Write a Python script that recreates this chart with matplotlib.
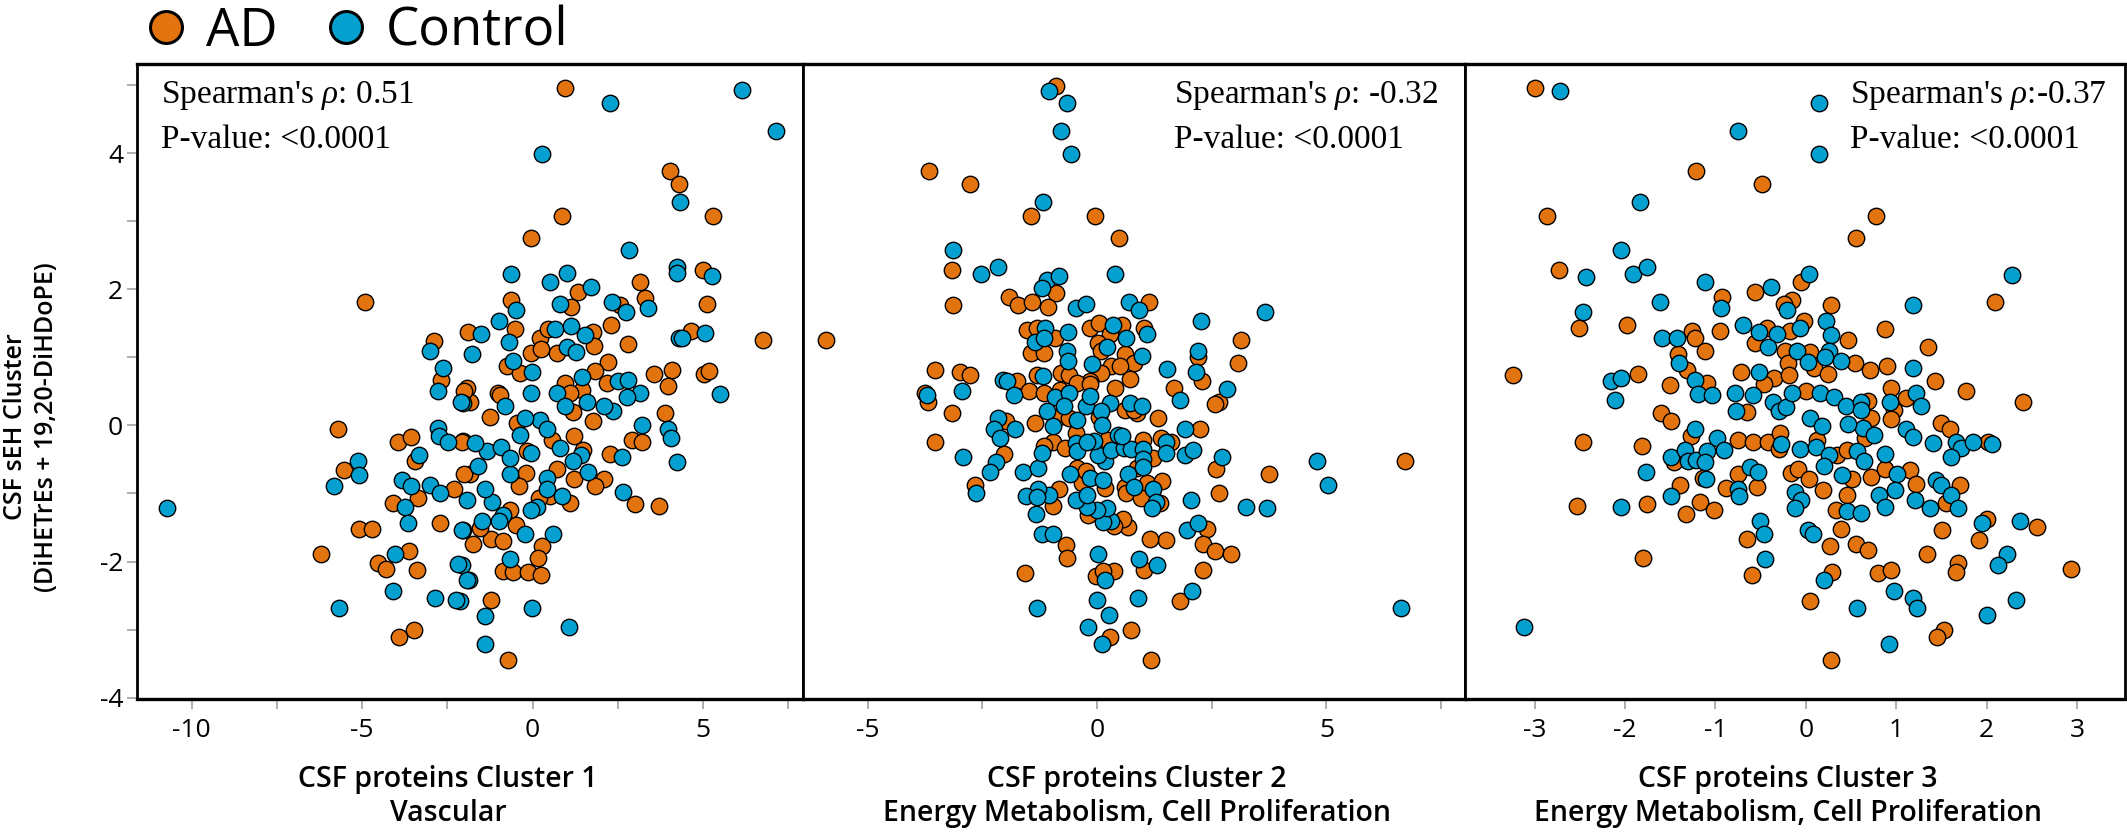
import numpy as np
import matplotlib
matplotlib.use("Agg")
import matplotlib.pyplot as plt
from matplotlib.lines import Line2D
from matplotlib.ticker import MultipleLocator

plt.rcParams["axes.unicode_minus"] = False
plt.rcParams["mathtext.fontset"] = "custom"
plt.rcParams["mathtext.rm"] = "Liberation Serif"
plt.rcParams["mathtext.it"] = "Liberation Serif:italic"

# (x, y) per subject; y = CSF sEH cluster score
c1_ad = [(0.95, 4.96), (4.04, 3.74), (4.30, 3.55), (0.87, 3.07), (5.28, 3.07), (-0.04, 2.76), (5.01, 2.28),
         (3.16, 2.10), (1.32, 1.96), (3.29, 1.87), (5.12, 1.78), (-0.62, 1.84), (1.13, 1.74), (2.55, 1.77),
         (-0.51, 1.42), (-1.90, 1.37), (0.22, 1.29), (0.46, 1.42), (1.76, 1.37), (2.29, 1.47), (2.80, 1.20),
         (4.64, 1.39), (6.76, 1.26), (-0.05, 1.06), (0.24, 1.12), (0.71, 1.07), (1.79, 1.16), (2.22, 0.93),
         (-0.76, 0.88), (-0.37, 0.77), (1.83, 0.80), (3.57, 0.75), (4.10, 0.81), (3.98, 0.58), (5.04, 0.76),
         (5.18, 0.80), (2.19, 0.62), (0.96, 0.63), (-1.93, 0.55), (-1.00, 0.48), (1.44, 0.52), (3.88, 0.18),
         (2.91, -0.22), (3.21, -0.25), (2.27, -0.42), (3.00, -1.16), (3.72, -1.18), (1.21, -0.15), (1.78, 0.06),
         (1.20, 0.19), (1.48, -0.36), (0.73, -0.64), (2.09, -0.79), (1.83, -0.89), (1.21, -0.79), (1.11, -1.14),
         (0.52, -1.03), (0.19, -1.07), (-0.20, -0.70), (-0.39, -0.89), (-0.66, -1.24), (-0.49, -1.46),
         (0.28, -1.77), (0.15, -1.95), (-0.87, -2.14), (-0.56, -2.16), (-0.12, -2.16), (0.26, -2.20),
         (-1.22, -2.57), (-0.73, -3.44), (-1.74, -1.74), (-1.23, -1.67), (-0.87, -1.70), (-1.54, -1.51),
         (-1.83, -0.72), (-2.03, -0.23), (-0.17, -0.38), (0.56, -0.21), (-0.46, 0.04), (-1.25, 0.12),
         (-1.83, 0.35), (-0.95, 0.45), (1.10, 0.48), (-4.90, 1.82), (-2.89, 1.24), (-2.70, 0.66), (-2.00, 0.50),
         (-5.72, -0.05), (-5.52, -0.65), (-5.09, -1.52), (-4.71, -1.52), (-6.21, -1.89), (-3.94, -0.25),
         (-3.57, -0.17), (-3.44, -0.53), (-3.36, -1.07), (-4.08, -1.14), (-2.71, -1.43), (-2.30, -0.94),
         (-2.08, -0.24), (-2.00, -0.72), (-3.62, -1.84), (-4.52, -2.02), (-4.30, -2.11), (-3.40, -2.12),
         (-3.48, -3.00), (-3.92, -3.11)]
c1_ctrl = [(2.26, 4.74), (6.14, 4.93), (7.14, 4.32), (0.29, 3.99), (4.33, 3.28), (2.82, 2.58), (4.23, 2.33),
           (4.23, 2.24), (5.25, 2.19), (-0.63, 2.22), (1.00, 2.24), (0.50, 2.11), (1.70, 2.03), (3.38, 1.72),
           (-0.49, 1.69), (0.81, 1.78), (2.33, 1.81), (2.74, 1.67), (-0.97, 1.53), (-1.52, 1.35), (-0.68, 1.23),
           (0.66, 1.42), (1.13, 1.46), (1.53, 1.33), (4.30, 1.29), (4.39, 1.28), (5.05, 1.36), (-1.77, 1.05),
           (1.00, 1.15), (1.28, 1.08), (-0.56, 0.94), (-0.02, 0.79), (1.46, 0.71), (5.51, 0.46), (2.51, 0.65),
           (2.81, 0.67), (-0.04, 0.48), (0.71, 0.48), (3.15, 0.48), (3.20, 0.00), (3.97, -0.05), (4.05, -0.19),
           (4.24, -0.54), (2.63, -0.46), (2.65, -0.98), (2.36, 0.21), (2.08, 0.28), (2.77, 0.42), (1.60, 0.35),
           (0.95, 0.28), (1.41, -0.43), (1.18, -0.53), (1.62, -0.69), (0.87, -1.04), (0.43, -0.77),
           (0.42, -0.94), (0.14, -1.20), (-0.05, -1.24), (-0.65, -0.72), (-0.86, -1.31), (-0.98, -1.40),
           (-0.22, -1.59), (0.61, -1.59), (-0.65, -1.96), (-1.40, -2.80), (-0.01, -2.68), (1.08, -2.96),
           (-1.40, -3.21), (-1.85, -2.27), (-2.08, -2.05), (-2.13, -2.58), (-1.49, -1.41), (-2.03, -1.53),
           (-1.20, -1.13), (-1.39, -0.94), (-1.93, -1.09), (-1.59, -0.60), (-1.34, -0.37), (-1.69, -0.26),
           (-0.93, -0.32), (-0.66, -0.48), (-0.37, -0.14), (-0.04, -0.41), (0.22, 0.08), (0.42, -0.06),
           (0.81, -0.33), (-0.22, 0.11), (-0.81, 0.28), (-2.03, 0.33), (-3.01, 1.09), (-2.64, 0.84),
           (-2.76, 0.50), (-10.73, -1.22), (-5.13, -0.52), (-5.09, -0.73), (-5.82, -0.89), (-5.67, -2.68),
           (-3.33, -0.43), (-3.84, -0.80), (-3.56, -0.89), (-3.74, -1.20), (-3.65, -1.44), (-3.01, -0.88),
           (-2.71, -1.00), (-2.76, -0.04), (-2.73, -0.16), (-2.47, -0.25), (-2.09, 0.34), (-2.08, -1.54),
           (-4.02, -1.89), (-2.18, -2.04), (-1.93, -2.27), (-4.08, -2.43), (-2.85, -2.54), (-2.24, -2.57)]

c2_ad = [(-0.89, 4.98), (-3.66, 3.74), (-2.77, 3.55), (-1.45, 3.07), (-0.04, 3.07), (0.47, 2.76), (-3.17, 2.28),
         (-0.89, 1.94), (-3.14, 1.77), (-1.93, 1.88), (-1.73, 1.77), (-1.41, 1.82), (-1.08, 1.74), (1.14, 1.82),
         (-5.91, 1.26), (3.14, 1.25), (3.07, 0.92), (2.19, 1.01), (2.29, 0.65), (1.67, 0.55), (-3.54, 0.82),
         (-2.98, 0.79), (-2.76, 0.74), (-1.75, 0.65), (-3.74, 0.48), (-1.53, 1.40), (-1.30, 1.43), (-0.91, 1.28),
         (-1.44, 1.06), (-1.16, 1.06), (-0.78, 0.77), (-0.61, 0.74), (-1.30, 0.74), (-0.15, 1.43), (0.05, 1.50),
         (0.54, 1.47), (0.29, 1.35), (1.03, 1.43), (0.02, 1.21), (0.08, 1.10), (0.60, 1.05), (0.81, 0.91),
         (0.31, 0.87), (0.49, 0.87), (0.08, 0.77), (-0.15, 0.65), (0.72, 0.68), (-0.43, 0.63), (0.40, 0.55),
         (-3.68, 0.34), (-3.17, 0.18), (-3.54, -0.25), (-2.66, -0.88), (-1.99, 0.06), (-2.03, -0.42),
         (-1.36, 0.03), (-1.48, 0.51), (-1.16, 0.48), (-0.96, -0.25), (-0.70, -0.33), (-0.47, -0.11),
         (-0.15, 0.61), (0.86, 0.18), (1.32, 0.11), (2.66, 0.35), (2.57, 0.31), (2.24, -0.05), (1.39, -0.18),
         (1.62, -0.25), (2.59, -0.64), (3.74, -0.71), (6.72, -0.53), (2.66, -0.99), (2.40, -1.52),
         (2.31, -1.74), (2.56, -1.84), (2.93, -1.89), (2.31, -2.12), (1.80, -2.58), (1.51, -1.69),
         (1.15, -1.67), (1.03, -2.12), (0.75, -3.00), (1.17, -3.44), (0.68, -1.50), (0.57, -1.37),
         (0.36, -1.48), (-0.20, -1.31), (-0.33, -0.85), (-0.43, -0.63), (-0.25, -0.67), (0.17, -0.92),
         (0.86, -0.63), (0.60, -0.90), (0.64, -0.99), (1.09, -0.85), (1.41, -0.81), (0.95, -1.07),
         (1.37, -1.14), (1.23, -0.48), (1.00, -0.22), (0.22, -0.21), (0.60, 0.23), (0.81, 0.23),
         (-1.16, -0.31), (-0.84, -0.94), (-0.97, -1.18), (-0.68, -1.76), (-0.66, -1.95), (-1.58, -2.17),
         (-0.03, -2.21), (0.36, -2.14), (0.14, -2.14), (0.29, -3.11), (-0.80, 0.52), (-0.82, 0.13),
         (-0.61, 0.11), (0.05, 0.12)]
c2_ctrl = [(-1.04, 4.92), (-0.66, 4.74), (-0.78, 4.32), (-0.56, 3.99), (-1.17, 3.28), (-3.15, 2.58),
           (-2.52, 2.23), (-2.16, 2.33), (0.38, 2.23), (-1.09, 2.13), (-0.84, 2.20), (-1.21, 2.02), (-0.47, 1.72),
           (-0.24, 1.78), (0.70, 1.81), (0.91, 1.70), (3.67, 1.67), (2.27, 1.53), (2.19, 1.10), (2.15, 0.79),
           (1.52, 0.83), (2.84, 0.53), (-2.06, 0.66), (-1.96, 0.65), (-2.94, 0.50), (-1.14, 1.43), (-1.35, 1.23),
           (-1.16, 1.28), (-0.64, 1.37), (-0.66, 1.09), (-0.64, 0.94), (-1.18, 0.72), (0.34, 1.47), (0.63, 1.28),
           (1.09, 1.35), (0.22, 1.15), (0.99, 1.02), (-0.10, 0.90), (-3.70, 0.44), (-2.93, -0.46), (-2.63, -0.99),
           (-2.17, 0.11), (-2.25, -0.06), (-2.11, -0.19), (-1.78, -0.05), (-2.20, -0.54), (-2.34, -0.69),
           (-1.61, -0.69), (-1.29, -0.62), (-1.21, -0.40), (-1.81, 0.45), (-0.91, 0.42), (-0.61, 0.47),
           (-0.73, 0.28), (-1.10, 0.21), (-0.96, -0.01), (-0.43, 0.08), (-0.47, -0.26), (-0.43, -0.38),
           (-0.24, 0.28), (-0.15, 0.43), (0.29, 0.33), (0.08, 0.21), (0.11, 0.01), (0.72, 0.33), (0.98, 0.28),
           (1.81, 0.38), (1.91, -0.05), (1.51, -0.25), (1.51, -0.40), (1.92, -0.43), (2.10, -0.36),
           (2.73, -0.47), (4.80, -0.53), (5.04, -0.88), (2.04, -1.09), (3.24, -1.20), (3.70, -1.21),
           (1.97, -1.54), (2.19, -1.44), (2.07, -2.43), (6.63, -2.68), (1.30, -2.05), (0.91, -1.97),
           (0.89, -2.53), (0.31, -1.40), (0.13, -1.42), (0.22, -1.21), (-0.01, -1.25), (-0.21, -1.20),
           (-0.47, -1.09), (-0.21, -1.02), (-0.59, -0.72), (-0.15, -0.78), (0.13, -0.80), (0.68, -0.72),
           (0.80, -0.91), (1.23, -0.94), (1.28, -1.13), (1.19, -1.21), (0.17, -0.53), (0.03, -0.43),
           (0.31, -0.36), (0.59, -0.33), (0.75, -0.34), (1.01, -0.35), (1.00, -0.50), (1.00, -0.61),
           (-0.06, -0.23), (-0.21, -0.24), (0.45, -0.14), (0.55, -0.16), (-1.04, -1.02), (-1.29, -0.94),
           (-1.55, -1.04), (-1.30, -1.05), (-1.34, -1.30), (-1.20, -1.60), (-0.97, -1.60), (-1.32, -2.68),
           (0.02, -1.89), (0.17, -2.27), (-0.01, -2.57), (0.26, -2.79), (-0.20, -2.96), (0.10, -3.21)]

c3_ad = [(-3.00, 4.96), (-1.22, 3.74), (-0.48, 3.55), (-2.86, 3.07), (0.78, 3.07), (0.55, 2.76), (-2.73, 2.28),
         (-0.05, 2.10), (2.09, 1.82), (-2.51, 1.43), (-1.98, 1.47), (-0.93, 1.88), (-0.56, 1.96), (-0.15, 1.84),
         (-0.24, 1.78), (0.28, 1.77), (-0.95, 1.38), (-0.43, 1.43), (-0.18, 1.38), (-0.02, 1.53), (0.47, 1.25),
         (0.87, 1.42), (1.35, 1.15), (-1.26, 1.38), (-1.23, 1.28), (-1.11, 1.10), (-1.41, 1.05), (-1.31, 0.82),
         (-3.24, 0.74), (-1.86, 0.76), (-1.50, 0.60), (-0.72, 0.78), (-0.35, 0.70), (-0.56, 1.21), (-0.23, 1.09),
         (0.05, 1.08), (0.09, 0.84), (0.24, 0.76), (0.54, 0.92), (0.71, 0.82), (0.90, 0.87), (1.43, 0.65),
         (1.77, 0.50), (0.94, 0.55), (-0.20, 0.92), (-0.19, 0.74), (-1.09, 0.63), (-1.60, 0.18), (-1.49, 0.06),
         (-1.27, -0.15), (-2.46, -0.25), (-1.81, -0.31), (-2.53, -1.18), (-1.76, -1.16), (-1.80, -1.95),
         (-1.46, -0.54), (-1.14, -0.77), (-1.39, -0.88), (-1.17, -1.13), (-1.33, -1.30), (-1.02, -1.25),
         (-0.88, -0.92), (-0.75, -0.71), (-0.54, -0.91), (-0.75, -0.22), (-0.59, -0.25), (-0.42, -0.25),
         (-0.29, -0.11), (-0.30, -0.35), (-0.65, 0.20), (-0.46, 0.61), (0.00, 0.51), (0.69, 0.36), (0.72, 0.11),
         (0.65, -0.19), (0.12, -0.21), (0.35, -0.44), (0.46, -0.36), (-0.16, -0.70), (-0.09, -0.64),
         (0.04, -0.79), (0.19, -0.95), (0.51, -0.79), (0.46, -1.02), (0.33, -1.25), (0.72, -0.76), (0.88, -0.64),
         (1.15, -0.65), (1.22, -0.86), (1.70, -0.87), (1.55, -1.14), (1.51, -1.53), (2.00, -1.38), (2.56, -1.50),
         (1.92, -1.69), (2.93, -2.11), (1.34, -1.89), (1.68, -2.02), (1.66, -2.15), (1.53, -3.00), (1.45, -3.11),
         (0.28, -3.44), (0.80, -2.17), (0.94, -2.12), (0.29, -2.16), (0.05, -2.58), (0.27, -1.77), (0.55, -1.74),
         (0.69, -1.83), (0.39, -1.52), (-0.65, -1.67), (-0.60, -2.20), (1.49, 0.04), (1.59, -0.05),
         (2.02, -0.24), (2.40, 0.35), (1.11, 0.40), (0.98, 0.23), (0.94, 0.09)]
c3_ctrl = [(-2.72, 4.92), (0.15, 4.74), (-0.75, 4.32), (0.14, 3.99), (-1.83, 3.28), (-2.05, 2.57), (-2.43, 2.18),
           (-1.91, 2.23), (-1.76, 2.33), (0.03, 2.23), (2.28, 2.21), (-1.11, 2.11), (-1.61, 1.81), (-2.46, 1.67),
           (-0.94, 1.72), (-0.39, 2.03), (-0.21, 1.70), (1.18, 1.77), (-0.69, 1.47), (-0.52, 1.37), (-0.32, 1.35),
           (-0.06, 1.43), (0.22, 1.53), (0.28, 1.33), (-1.59, 1.28), (-1.42, 1.28), (-1.40, 0.91), (-2.16, 0.65),
           (-2.05, 0.70), (-1.23, 0.67), (-0.52, 0.79), (-0.42, 1.15), (-0.10, 1.09), (0.26, 1.10), (0.21, 1.01),
           (0.02, 0.93), (0.39, 0.94), (1.18, 0.84), (-2.11, 0.38), (-1.19, 0.46), (-1.04, 0.45), (-1.23, -0.06),
           (-0.98, -0.19), (-0.91, -0.36), (-1.77, -0.69), (-2.05, -1.20), (-3.12, -2.96), (-1.49, -0.46),
           (-1.34, -0.36), (-1.30, -0.52), (-1.21, -0.51), (-1.09, -0.38), (-1.11, -0.54), (-1.10, -0.79),
           (-1.49, -1.03), (-0.75, -0.93), (-0.74, -1.04), (-0.62, -0.61), (-0.53, -0.69), (-0.28, -0.28),
           (-0.78, 0.48), (-0.59, 0.44), (-0.77, 0.21), (-0.36, 0.34), (-0.30, 0.21), (-0.22, 0.27),
           (-0.15, 0.48), (0.16, 0.48), (0.31, 0.42), (0.44, 0.29), (0.61, 0.34), (0.61, 0.22), (0.63, -0.04),
           (0.47, 0.02), (0.75, -0.14), (0.05, 0.11), (0.18, -0.01), (-0.07, -0.35), (0.11, -0.32), (0.26, -0.43),
           (0.57, -0.37), (0.64, -0.52), (0.20, -0.59), (-0.12, -0.98), (-0.05, -1.09), (-0.12, -1.21),
           (0.40, -0.73), (0.46, -1.26), (0.61, -1.29), (0.88, -0.42), (1.01, -0.72), (0.99, -0.95), (0.81, -1.02),
           (0.88, -1.20), (1.21, -1.10), (1.37, -1.22), (1.44, -0.80), (1.50, -0.88), (1.61, -1.02), (1.68, -1.22),
           (1.95, -1.44), (2.37, -1.40), (2.22, -1.89), (2.13, -2.05), (2.32, -2.57), (2.00, -2.79), (0.92, -3.21),
           (0.98, -2.43), (1.19, -2.53), (1.23, -2.68), (0.57, -2.68), (0.20, -2.27), (0.02, -1.54), (0.08, -1.60),
           (-0.51, -1.41), (-0.46, -1.60), (-0.45, -1.97), (1.41, -0.26), (1.66, -0.24), (1.72, -0.33),
           (1.61, -0.47), (1.85, -0.25), (2.06, -0.27), (1.22, 0.47), (1.27, 0.28), (0.93, 0.35), (1.11, -0.05),
           (1.19, -0.17)]

xlabel_top = ["CSF proteins Cluster 1", "CSF proteins Cluster 2", "CSF proteins Cluster 3"]
xlabel_bottom = ["Vascular", "Energy Metabolism, Cell Proliferation", "Energy Metabolism, Cell Proliferation"]
rho_text = ["Spearman's $\\rho$: 0.51", "Spearman's $\\rho$: -0.32", "Spearman's $\\rho$:-0.37"]
p_text = ["P-value: <0.0001"] * 3

orange = "#E3730E"
blue = "#04A0D0"

W, H = 2127, 833
fig = plt.figure(figsize=(W / 100, H / 100), dpi=100)

# axes boxes in pixels: (left, width)
boxes = [(137, 666), (803, 662), (1465, 660)]
xlims = [(-11.6, 7.93), (-6.41, 8.02), (-3.77, 3.53)]
majors = [5, 5, 1]
minors = [2.5, 2.5, 1]
text_x = [0.036, 0.560, 0.584]
xlabel_x = [448, 1137, 1788]

axes = []
for i, (ad, ctrl) in enumerate([(c1_ad, c1_ctrl), (c2_ad, c2_ctrl), (c3_ad, c3_ctrl)]):
    left, width = boxes[i]
    ax = fig.add_axes([left / W, 134 / H, width / W, 635 / H])
    axes.append(ax)

    ad = np.array(ad)
    ctrl = np.array(ctrl)
    ax.scatter(ad[:, 0], ad[:, 1], s=140, c=orange, edgecolors="black", linewidths=1.0, zorder=3)
    ax.scatter(ctrl[:, 0], ctrl[:, 1], s=140, c=blue, edgecolors="black", linewidths=1.0, zorder=3)

    ax.set_xlim(*xlims[i])
    ax.set_ylim(-4.02, 5.31)
    ax.xaxis.set_major_locator(MultipleLocator(majors[i]))
    ax.xaxis.set_minor_locator(MultipleLocator(minors[i]))
    ax.tick_params(axis="x", which="both", direction="out", length=7, width=1.3,
                   color="#a8a8a8", labelsize=19, pad=7)

    if i == 0:
        ax.yaxis.set_major_locator(MultipleLocator(2))
        ax.yaxis.set_minor_locator(MultipleLocator(1))
        ax.tick_params(axis="y", which="both", direction="out", length=7, width=1.3,
                       color="#a8a8a8", labelsize=19, pad=3)
    else:
        ax.tick_params(axis="y", which="both", left=False, labelleft=False)

    for side in ["top", "bottom"]:
        ax.spines[side].set_linewidth(2.4)
    ax.spines["left"].set_linewidth(2.0)
    ax.spines["right"].set_linewidth(2.0)

    ax.text(text_x[i], 0.951, rho_text[i], transform=ax.transAxes, ha="left", va="center",
            fontsize=24, family="Liberation Serif")
    ax.text(text_x[i], 0.880, p_text[i], transform=ax.transAxes, ha="left", va="center",
            fontsize=24, family="Liberation Serif")

    fig.text(xlabel_x[i] / W, 1 - 787 / H, xlabel_top[i], ha="center", va="baseline",
             fontsize=20.5, family="Open Sans", fontweight="semibold")
    fig.text(xlabel_x[i] / W, 1 - 821 / H, xlabel_bottom[i], ha="center", va="baseline",
             fontsize=20.5, family="Open Sans", fontweight="semibold")

for ax in axes:
    for lab in ax.get_xticklabels() + ax.get_yticklabels():
        lab.set_family("Open Sans")

fig.text(31 / W, 1 - 427 / H, "CSF sEH Cluster\n(DiHETrEs + 19,20-DiHDoPE)", rotation=90,
         ha="center", va="center", fontsize=18, family="Open Sans", fontweight="semibold", linespacing=1.3)

handles = [Line2D([], [], ls="", marker="o", ms=23, mfc=orange, mec="black", mew=2.2),
           Line2D([], [], ls="", marker="o", ms=23, mfc=blue, mec="black", mew=2.2)]
fig.legend(handles, ["AD", "Control"], loc="center left", bbox_to_anchor=(140 / W, 1 - 32 / H),
           ncol=2, frameon=False, handlelength=1.0, handletextpad=0.25,
           columnspacing=0.8, borderpad=0, borderaxespad=0, prop={"family": "Open Sans", "size": 38})

fig.savefig("out.png", dpi=100)
